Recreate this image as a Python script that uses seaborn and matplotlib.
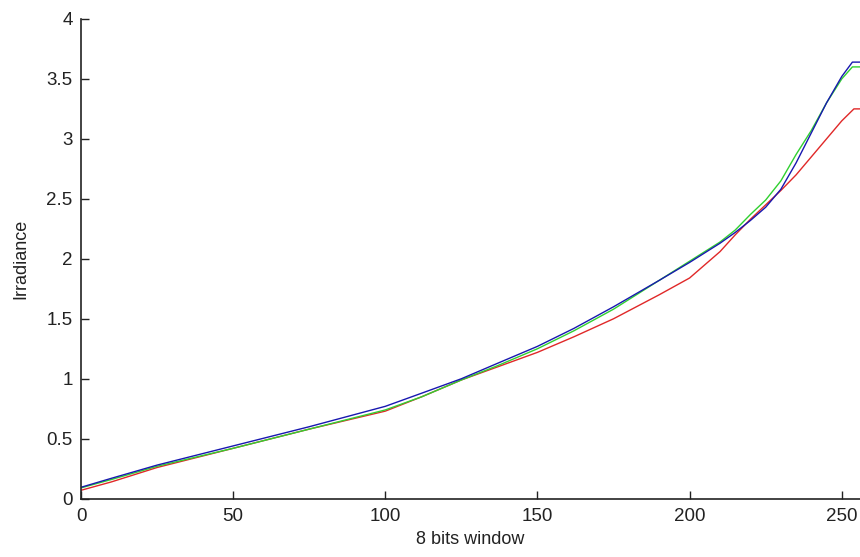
import numpy as np
import pandas as pd
import matplotlib
matplotlib.use('Agg')
import matplotlib.pyplot as plt
import seaborn as sns

# curvas de resposta
x_red = [0, 10, 25, 50, 75, 100, 112, 125, 137, 150, 162, 175, 190, 200, 210, 215, 220, 225, 230, 235, 240, 245, 250, 254, 256]
y_red = [0.07, 0.14, 0.26, 0.42, 0.58, 0.73, 0.85, 0.99, 1.10, 1.22, 1.35, 1.50, 1.70, 1.84, 2.06, 2.20, 2.33, 2.45, 2.57, 2.70, 2.85, 3.00, 3.15, 3.25, 3.25]

x_green = [0, 10, 25, 50, 75, 100, 112, 125, 137, 150, 162, 175, 190, 200, 210, 215, 220, 225, 230, 235, 240, 245, 250, 253.5, 256]
y_green = [0.09, 0.16, 0.27, 0.42, 0.58, 0.74, 0.85, 0.99, 1.11, 1.25, 1.40, 1.58, 1.82, 1.98, 2.14, 2.24, 2.37, 2.49, 2.65, 2.87, 3.07, 3.30, 3.50, 3.60, 3.60]

x_blue = [0, 10, 25, 50, 75, 100, 112, 125, 137, 150, 162, 175, 190, 200, 210, 215, 220, 225, 230, 235, 240, 245, 250, 253.5, 256]
y_blue = [0.095, 0.17, 0.28, 0.44, 0.60, 0.77, 0.88, 1.00, 1.13, 1.27, 1.42, 1.60, 1.82, 1.97, 2.13, 2.22, 2.32, 2.43, 2.58, 2.80, 3.05, 3.30, 3.52, 3.64, 3.64]

x_ticks = [0, 50, 100, 150, 200, 250]
y_ticks = [0, 0.5, 1, 1.5, 2, 2.5, 3, 3.5, 4]
y_tick_labels = ['0', '0.5', '1', '1.5', '2', '2.5', '3', '3.5', '4']

sns.set_style('white')
plt.rcParams['font.family'] = ['Liberation Sans', 'DejaVu Sans']

fig = plt.figure(figsize=(8.6, 5.57), dpi=100)
ax = fig.add_axes([0.0942, 0.1047, 0.9058, 0.8613])

df_red = pd.DataFrame({'x': x_red, 'y': y_red})
df_green = pd.DataFrame({'x': x_green, 'y': y_green})
df_blue = pd.DataFrame({'x': x_blue, 'y': y_blue})

sns.lineplot(data=df_red, x='x', y='y', ax=ax, color='#e02828', linewidth=1.0)
sns.lineplot(data=df_green, x='x', y='y', ax=ax, color='#30d030', linewidth=1.0)
sns.lineplot(data=df_blue, x='x', y='y', ax=ax, color='#1818b0', linewidth=1.0)

ax.set_xlim(0, 256)
ax.set_ylim(0, 4)
ax.set_xticks(x_ticks)
ax.set_yticks(y_ticks)
ax.set_yticklabels(y_tick_labels)
ax.tick_params(direction='in', length=6, width=1, labelsize=13.5, colors='#222222', left=True, bottom=True)
ax.tick_params(axis='x', pad=7)
ax.tick_params(axis='y', pad=6)
ax.set_xlabel('8 bits window', fontsize=13, color='#222222', labelpad=4)
ax.set_ylabel('Irradiance', fontsize=13, color='#222222', labelpad=12)

sns.despine(ax=ax)
for s in ['left', 'bottom']:
    ax.spines[s].set_color('#222222')
    ax.spines[s].set_linewidth(1.2)

fig.savefig('out.png', dpi=100)
